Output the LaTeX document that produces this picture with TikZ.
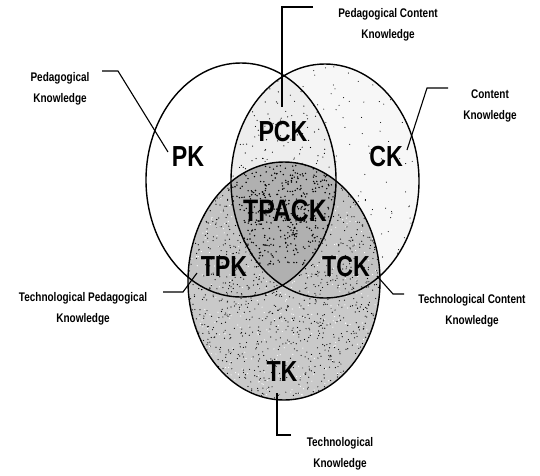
\documentclass[tikz,border=0pt]{standalone}
\usepackage{fontspec}
\setmainfont{Liberation Sans}
\newfontfamily\bigf[FakeStretch=0.8]{Liberation Sans}
\newfontfamily\smf[FakeStretch=0.8]{Liberation Sans}
\begin{document}
\begin{tikzpicture}[x=1pt,y=-1pt,
  big/.style={font=\bigf\bfseries\fontsize{29}{29}\selectfont, inner sep=0pt},
  lab/.style={font=\smf\bfseries\fontsize{12.5}{21.5}\selectfont, align=center, inner sep=0pt},
  ring/.style={line width=1.4pt},
  lead/.style={line width=1.1pt},
  speck/.style={fill=black}]
\useasboundingbox (0,0) rectangle (540,475);
\def\PKe{(241,180) ellipse [x radius=95pt, y radius=117pt]}
\def\CKe{(325,181) ellipse [x radius=94pt, y radius=117pt]}
\def\TKe{(284,281) ellipse [x radius=96pt, y radius=119pt]}
\pgfmathsetseed{7}
% fills
\fill[gray!6] \CKe;
\begin{scope}\clip \CKe;
  \foreach \i in {1,...,220} {\fill[speck] ({325+94*rand},{181+117*rand}) circle[radius=0.55pt];}
\end{scope}
\begin{scope}\clip \PKe; \fill[gray!14] \CKe;
  \clip \CKe;
  \foreach \i in {1,...,160} {\fill[speck] ({283+50*rand},{130+60*rand}) circle[radius=0.6pt];}
\end{scope}
\fill[gray!42] \TKe;
\begin{scope}\clip \TKe; \fill[gray!47] \PKe; \fill[gray!47] \CKe;
  \foreach \i in {1,...,1400} {\fill[speck] ({284+96*rand},{281+119*rand}) circle[radius=0.6pt];}
  \foreach \i in {1,...,500} {\fill[white] ({284+96*rand},{281+119*rand}) circle[radius=0.6pt];}
\end{scope}
\begin{scope}\clip \TKe; \clip \PKe; \fill[gray!62] \CKe;
  \clip \CKe;
  \foreach \i in {1,...,500} {\fill[speck] ({284+55*rand},{215+50*rand}) circle[radius=0.8pt];}
\end{scope}
% outlines
\draw[ring] \PKe;
\draw[ring] \CKe;
\draw[ring] \TKe;
% region labels
\node[big] (pk) at (188,157) {PK};
\node[big] (ck) at (386,157) {CK};
\node[big] (pck) at (283,132) {PCK};
\node[big, font=\bigf\bfseries\fontsize{31}{31}\selectfont] (tpack) at (285,211) {TPACK};
\node[big] (tpk) at (224,267) {TPK};
\node[big] (tck) at (346,267) {TCK};
\node[big] (tk) at (282,372) {TK};
% outer labels
\node[lab] (lpk) at (60,89) {Pedagogical\\Knowledge};
\node[lab] (lpck) at (388,25) {Pedagogical Content\\Knowledge};
\node[lab] (lck) at (490,106) {Content\\Knowledge};
\node[lab] (ltpk) at (83,309) {Technological Pedagogical\\Knowledge};
\node[lab] (ltck) at (472,311) {Technological Content\\Knowledge};
\node[lab] (ltk) at (340,454) {Technological\\Knowledge};
% leader coordinates
\coordinate (apk1) at (102,71); \coordinate (apk2) at (118,71); \coordinate (apk3) at (168,152);
\coordinate (apck1) at (313,7); \coordinate (apck2) at (282,7); \coordinate (apck3) at (282,107);
\coordinate (ack1) at (448,88); \coordinate (ack2) at (427,88); \coordinate (ack3) at (407,150);
\coordinate (atpk1) at (163,292); \coordinate (atpk2) at (183,292); \coordinate (atpk3) at (197,273);
\coordinate (atck1) at (404,294); \coordinate (atck2) at (393,294); \coordinate (atck3) at (377,276);
\coordinate (atk1) at (291,435); \coordinate (atk2) at (277,435); \coordinate (atk3) at (277,393);
\draw[lead] (apk1) -- (apk2) -- (apk3);
\draw[lead] (apck1) -- (apck2) -- (apck3);
\draw[lead] (ack1) -- (ack2) -- (ack3);
\draw[lead] (atpk1) -- (atpk2) -- (atpk3);
\draw[lead] (atck1) -- (atck2) -- (atck3);
\draw[lead] (atk1) -- (atk2) -- (atk3);
\end{tikzpicture}
\end{document}
